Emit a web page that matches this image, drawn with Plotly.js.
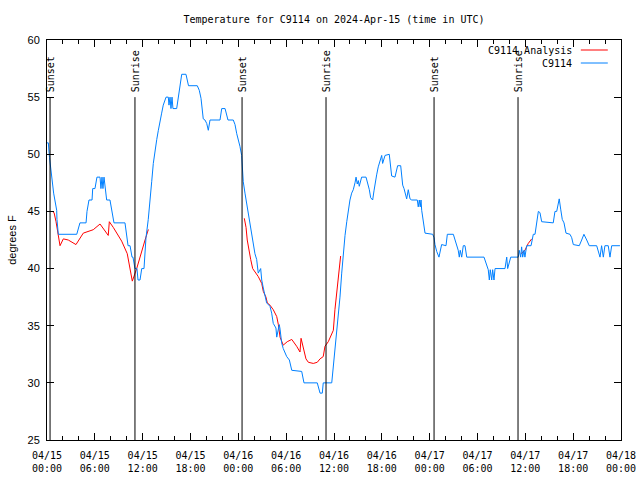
<!DOCTYPE html>
<html>
<head>
<meta charset="utf-8">
<script src="https://cdn.plot.ly/plotly-3.0.1.min.js"></script>
<style>html,body{margin:0;padding:0;background:#fff;}#chart{width:640px;height:480px;}</style>
</head>
<body>
<div id="chart"></div>
<script>
// Observed temperature (C9114), "DD HH:MM" in April 2024, UTC
const obsTime = [
'15 00:00','15 00:10','15 00:19','15 00:30','15 00:38','15 00:50','15 01:13','15 01:15','15 01:25','15 03:44',
'15 04:08','15 04:54','15 05:01','15 05:16','15 05:39','15 05:44','15 06:01','15 06:16','15 06:39','15 06:46',
'15 06:54','15 07:01','15 07:09','15 07:29','15 07:54','15 08:07','15 08:24','15 09:47','15 10:00','15 10:10',
'15 10:25','15 10:40','15 10:47','15 11:02','15 11:17','15 11:25','15 11:40','15 11:53','15 12:10','15 12:25',
'15 12:42','15 12:55','15 13:08','15 13:20','15 13:33','15 13:46','15 13:58','15 14:10','15 14:23','15 14:35',
'15 14:56','15 15:13','15 15:18','15 15:26','15 15:33','15 15:41','15 15:48','15 16:16','15 16:28','15 16:41',
'15 16:54','15 17:26','15 17:39','15 17:45','15 18:51','15 19:06','15 19:19','15 19:29','15 19:36','15 19:49',
'15 20:02','15 20:14','15 20:27','15 21:42','15 21:55','15 22:20','15 22:37','15 22:42','15 23:22','15 23:35',
'15 23:48','16 00:00','16 00:12','16 00:25','16 00:30','16 00:37','16 00:50','16 01:03','16 01:15','16 01:28',
'16 01:41','16 01:53','16 02:05','16 02:18','16 02:30','16 02:48','16 02:56','16 03:08','16 03:21','16 03:33',
'16 03:58','16 04:11','16 04:23','16 04:43','16 04:49','16 05:08','16 05:14','16 05:26','16 05:38','16 06:04',
'16 06:24','16 06:42','16 07:57','16 08:14','16 09:54','16 10:15','16 10:32','16 10:39','16 11:43','16 11:55',
'16 12:15','16 12:32','16 12:45','16 12:58','16 13:10','16 13:23','16 13:36','16 13:48','16 14:00','16 14:13',
'16 14:25','16 14:38','16 14:46','16 14:55','16 15:03','16 15:10','16 15:21','16 15:28','16 16:01','16 16:11',
'16 16:26','16 16:36','16 16:51','16 17:01','16 17:09','16 17:21','16 17:33','16 17:46','16 17:59','16 18:06',
'16 18:14','16 18:24','16 18:56','16 19:07','16 19:14','16 19:39','16 19:52','16 19:59','16 20:22','16 20:29',
'16 20:37','16 20:47','16 21:02','16 21:07','16 21:19','16 21:32','16 21:45','16 22:27','16 22:34','16 22:42',
'16 22:49','16 22:55','16 23:00','16 23:07','16 23:17','16 23:25','17 00:23','17 00:33','17 00:40','17 00:53',
'17 01:10','17 01:23','17 01:30','17 02:03','17 02:13','17 02:58','17 03:11','17 03:23','17 03:35','17 03:43',
'17 03:50','17 04:01','17 04:13','17 04:26','17 04:39','17 06:49','17 07:04','17 07:21','17 07:29','17 07:36',
'17 07:47','17 07:54','17 08:04','17 08:12','17 09:27','17 09:40','17 09:47','17 09:57','17 10:10','17 11:07',
'17 11:14','17 11:25','17 11:32','17 11:40','17 11:50','17 11:57','17 12:10','17 12:43','17 12:50','17 13:00',
'17 13:13','17 13:20','17 13:30','17 13:38','17 13:50','17 14:03','17 15:30','17 15:43','17 15:56','17 16:08',
'17 16:15','17 16:26','17 16:38','17 16:51','17 17:06','17 17:36','17 17:49','17 18:01','17 18:46','17 19:04',
'17 19:21','17 19:42','17 20:01','17 20:57','17 21:09','17 21:22','17 21:34','17 21:47','17 21:59','17 22:24',
'17 22:37','17 22:50','17 23:52'];
const obsTemp = [
51,51,49.7,48.5,47.5,46.6,45.1,44.3,43,43,
44,44,45,46,46,47,47,48,48,47,
48,47,48,46,46,45,44,44,43,42,
42,41,41,40,40,39,39,40,40,42.7,
44.3,46.3,47.6,49.2,50.4,51.3,52.1,53,53.6,54.3,
55,55,54.3,55,54,55,54,54,55,56,
57,57,56.2,56,56,55.6,54.9,54,53.1,53,
52.7,52.1,53,53,54,54,53.3,53,53,52.6,
51.8,51.3,50.7,49.9,48.6,47.6,46.6,45.7,44.8,43.8,
43.1,42.2,41.3,40.8,39.6,40,39,38.3,37.7,37,
36.7,36.1,35.2,34.8,34,35.1,34.7,33.5,33,32.3,
32,31.1,31,30,30,29.1,29.1,30,30,31.4,
33.8,35.5,37.5,39.6,41.3,42.9,44.1,45.1,46,46.6,
46.9,47.5,48,47.4,47.7,47.2,47.9,48,48,47.6,
46.9,46.2,46,46.8,47.5,48.2,48.9,49.5,49.9,49.2,
49.5,49.9,50,48.5,48.1,48,48.9,49,49,48.1,
47.3,47,46.4,46.1,46.9,46.1,46,46,45.4,46,
45.4,46,45.1,44.4,43.7,43.1,43,42.7,42.1,41.5,
41,41.6,42.1,42,43,43,42.5,42.1,41.6,41,
41.6,41,42,42,41,41,40.5,39.9,39,39.9,
39,39.9,39,40,40,41,40,40.5,41,41,
41.6,41,41.9,41,41.6,41,42,42,42.5,43,
43,43.6,44.3,45,44.9,44.1,44,45,45,45.7,
46.1,45.2,44.3,44,43.1,43,42.7,42.1,42,42.5,
43,42.5,42,42,41.5,41,42,41,42,42,
41,42,42];

// Analysis temperature (C9114 Analysis); null separates the three runs
const anaTime = [
'15 00:40','15 00:53','15 01:08','15 01:38','15 02:03','15 02:40','15 03:38','15 04:33','15 05:48','15 06:39',
'15 07:41','15 07:49','15 08:19','15 09:22','15 10:04','15 10:25','15 10:42','15 11:15','15 11:45','15 12:18',
'15 12:42','15 12:45','15 18:00',
'16 00:45','16 00:58','16 01:07','16 01:20','16 01:33','16 01:48','16 02:05','16 02:30','16 02:56','16 03:08',
'16 03:28','16 03:38','16 03:58','16 04:23','16 04:49','16 05:01','16 05:14','16 05:38','16 06:08','16 06:42',
'16 07:19','16 07:44','16 07:52','16 08:04','16 08:14','16 08:29','16 08:47','16 09:24','16 09:54','16 10:15',
'16 10:39','16 10:52','16 11:17','16 11:43','16 11:55','16 12:07','16 12:20','16 12:32','16 12:45','16 12:50',
'16 18:00',
'17 11:27','17 11:57','17 12:22','17 12:48'];
const anaTemp = [
45,44.9,44.1,42,42.6,42.5,42.1,43.1,43.4,43.9,
42.9,44.1,43.6,42.4,41.3,40,38.9,40,41.3,42.5,
43.4,43.4,null,
44.4,43.6,42.5,41.5,40.8,40,39.7,39.3,38.7,38,
37.5,37,36.8,36.4,35.8,35.1,34,33.3,33.6,33.8,
33.2,32.7,33.9,33.3,32.7,32.1,31.8,31.7,31.8,32.1,
32.3,33.2,33.6,34.2,34.6,36.4,37.8,39,41,41.1,
null,
41.3,41.6,42.2,42.6];

// Sunrise / sunset markers
const sunLabel = ['Sunset','Sunrise','Sunset','Sunrise','Sunset','Sunrise'];
const sunTime = ['15 00:23','15 11:02','16 00:28','16 11:00','17 00:33','17 11:05'];

const seriesNames = ['C9114 Analysis','C9114'];
const seriesColors = ['#ff0000','#0080ff'];

const toDate = s => '2024-04-' + s;
const mono = 'DejaVu Sans Mono, Liberation Mono, monospace';
const sans = 'Liberation Sans, Arial, sans-serif';

const traces = [
  {x: anaTime.map(toDate), y: anaTemp, type: 'scatter', mode: 'lines', name: seriesNames[0],
   connectgaps: false, line: {color: seriesColors[0], width: 1}},
  {x: obsTime.map(toDate), y: obsTemp, type: 'scatter', mode: 'lines', name: seriesNames[1],
   line: {color: seriesColors[1], width: 1}}
];

const shapes = [];
const annotations = [];
sunTime.forEach((t, i) => {
  shapes.push({type: 'line', xref: 'x', yref: 'y', x0: toDate(t), x1: toDate(t), y0: 25, y1: 55,
    line: {color: '#000', width: 1}});
  annotations.push({xref: 'x', yref: 'y', x: toDate(t), y: 55.25, text: sunLabel[i], textangle: -90,
    showarrow: false, xanchor: 'center', yanchor: 'bottom', font: {family: mono, size: 10, color: '#000'}});
});
// custom legend (text left of sample line)
const legY = [0.975, 0.9425];
seriesNames.forEach((n, i) => {
  annotations.push({xref: 'paper', yref: 'paper', x: 0.918, y: legY[i], text: n, showarrow: false,
    xanchor: 'right', yanchor: 'middle', font: {family: mono, size: 10, color: '#000'}});
  shapes.push({type: 'line', xref: 'paper', yref: 'paper', x0: 0.930, x1: 0.977, y0: legY[i], y1: legY[i],
    line: {color: seriesColors[i], width: 1}});
});

const layout = {
  width: 640, height: 480,
  margin: {l: 47, r: 19, t: 40, b: 40},
  paper_bgcolor: '#fff', plot_bgcolor: '#fff',
  showlegend: false,
  title: {text: 'Temperature for C9114 on 2024-Apr-15 (time in UTC)', x: 0.5, xref: 'paper',
    y: 1 - 19/480, yref: 'container', yanchor: 'middle', xanchor: 'center',
    font: {family: mono, size: 10, color: '#000'}},
  xaxis: {
    type: 'date', range: ['2024-04-15 00:00', '2024-04-18 00:00'],
    tick0: '2024-04-15 00:00', dtick: 6*3600*1000, tickformat: '%m/%d<br>%H:%M',
    ticks: 'inside', ticklen: 7, tickcolor: '#000', tickwidth: 1,
    showline: true, linecolor: '#000', linewidth: 1, mirror: 'ticks',
    showgrid: false, zeroline: false, ticklabelstandoff: 6,
    tickfont: {family: mono, size: 10, color: '#000'},
    minor: {dtick: 2*3600*1000, ticks: 'inside', ticklen: 4, tickcolor: '#000', showgrid: false}
  },
  yaxis: {
    range: [25, 60], dtick: 5, tick0: 25,
    ticks: 'inside', ticklen: 7, tickcolor: '#000', tickwidth: 1,
    showline: true, linecolor: '#000', linewidth: 1, mirror: 'ticks',
    showgrid: false, zeroline: false, ticklabelstandoff: 4,
    tickfont: {family: sans, size: 11, color: '#000'},
    title: {text: 'degrees F', font: {family: sans, size: 11, color: '#000'}, standoff: 8}
  },
  shapes: shapes,
  annotations: annotations
};

Plotly.newPlot('chart', traces, layout, {staticPlot: true, displayModeBar: false});
</script>
</body>
</html>
